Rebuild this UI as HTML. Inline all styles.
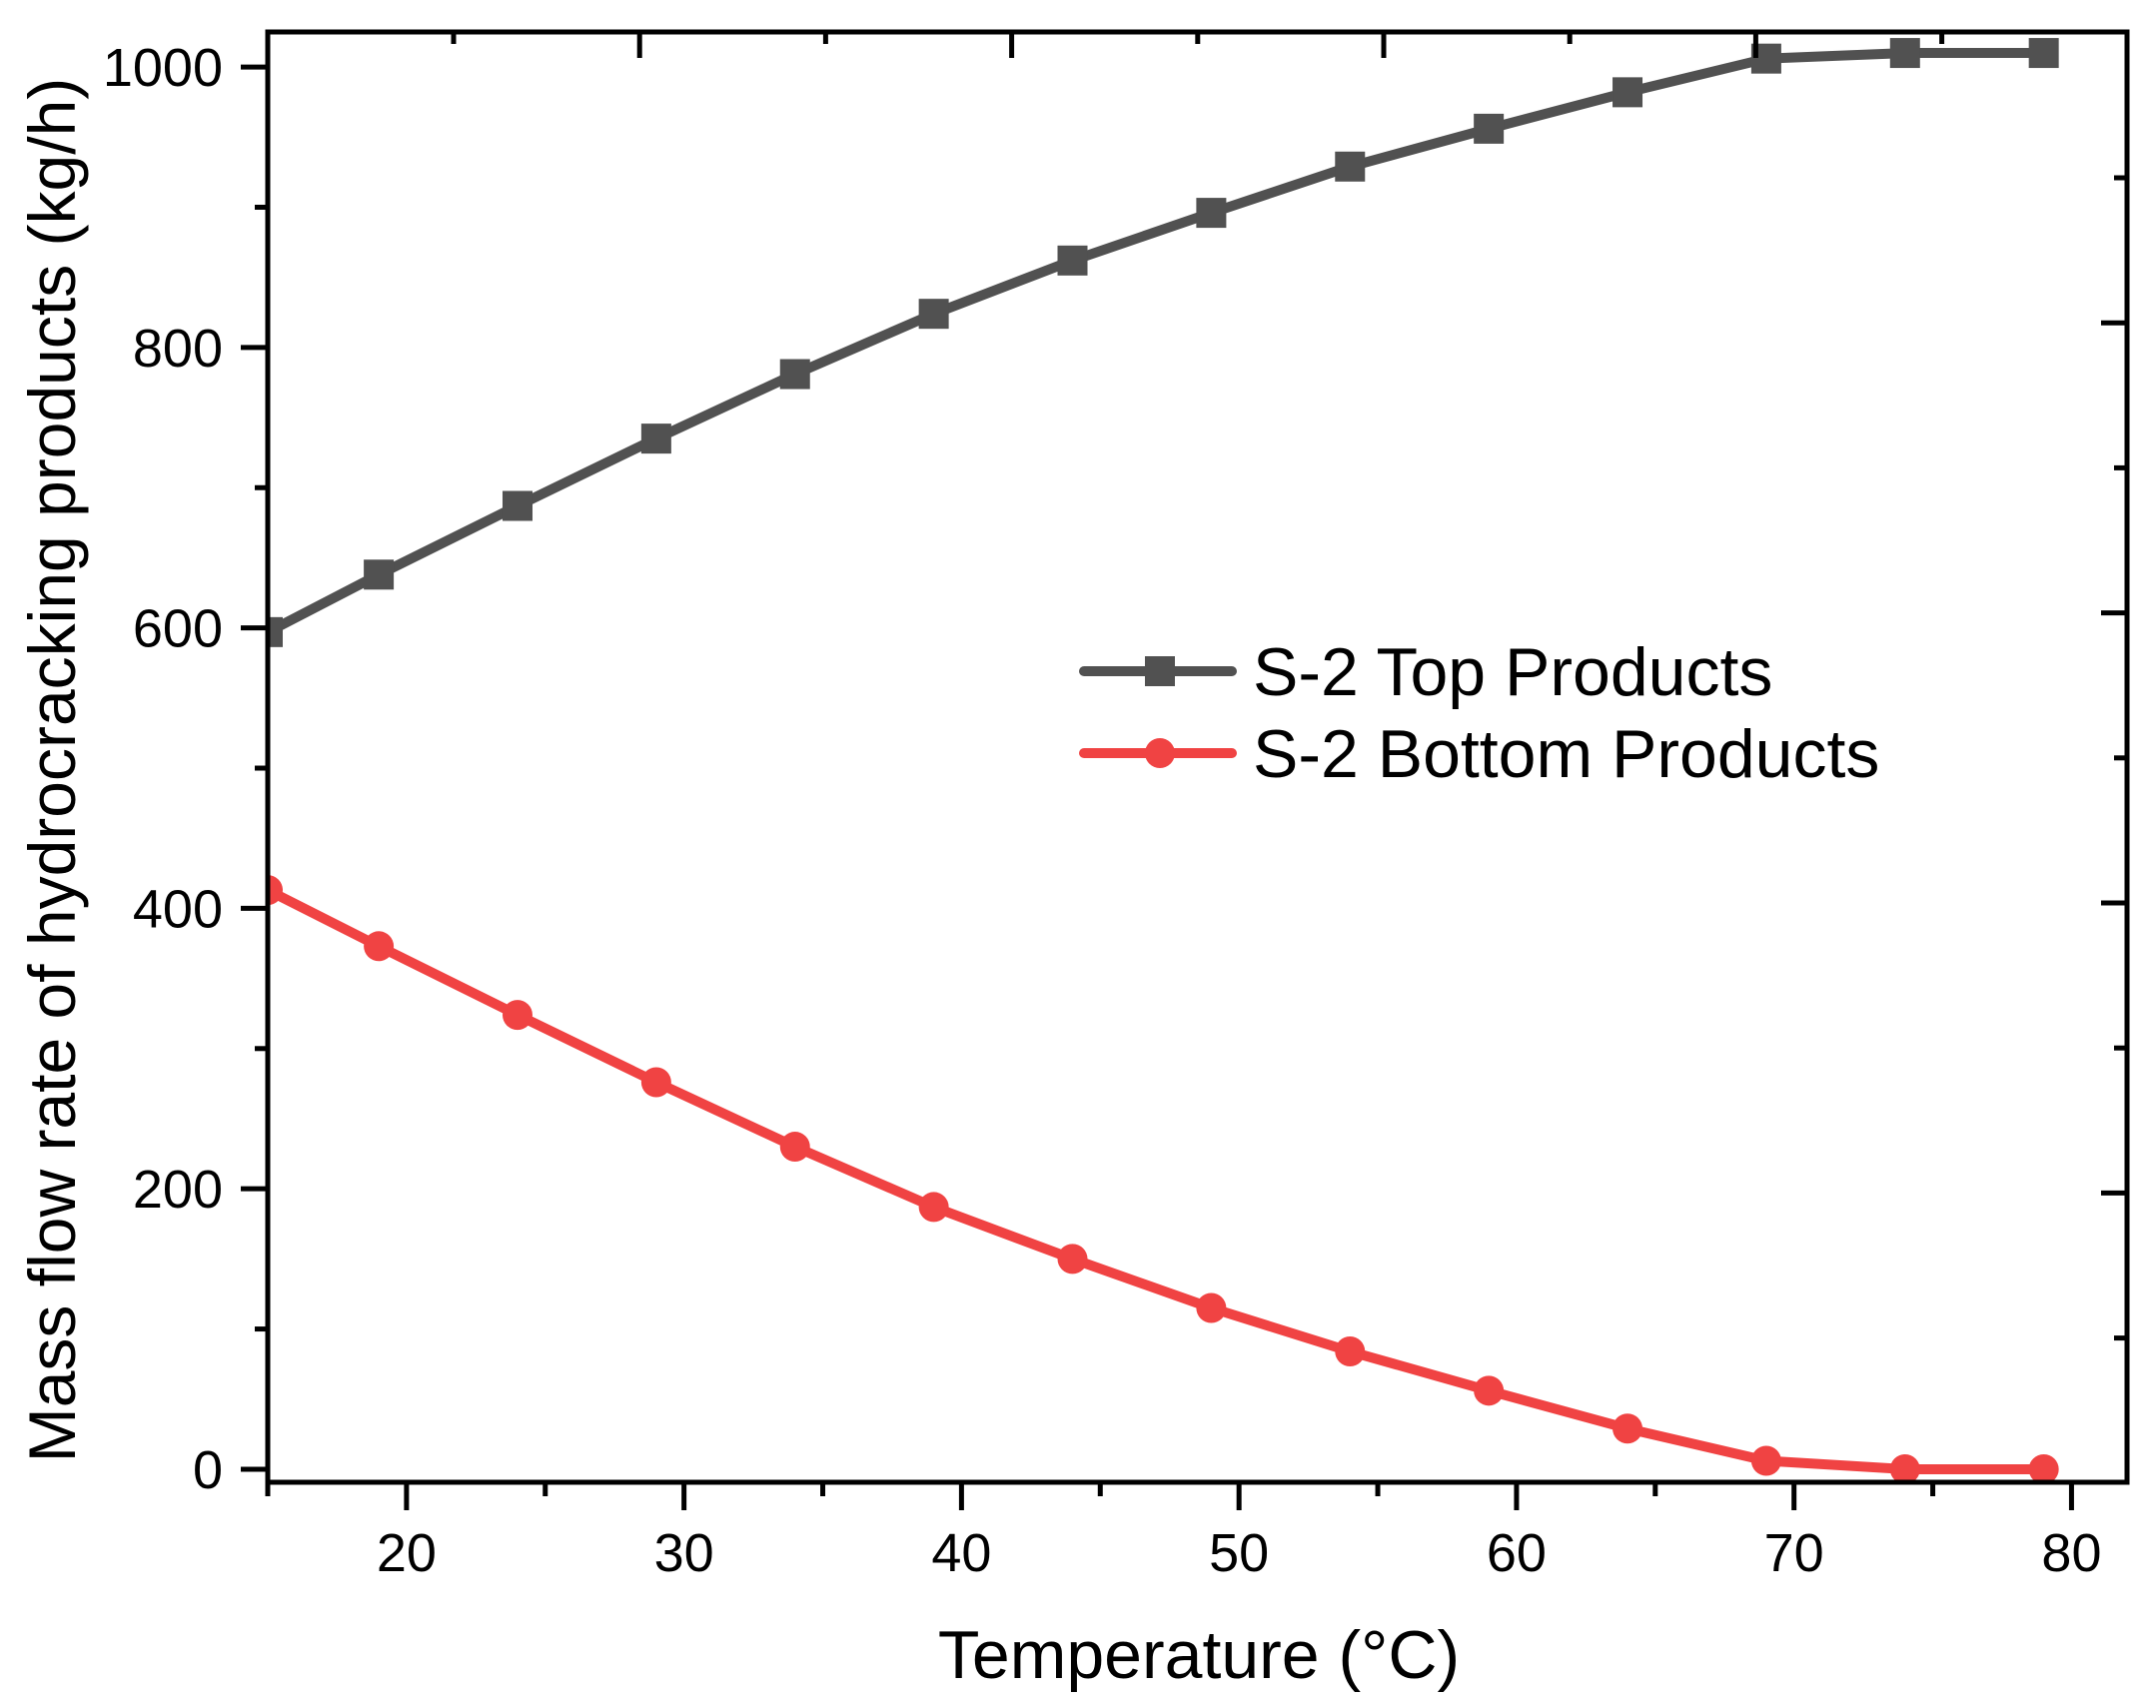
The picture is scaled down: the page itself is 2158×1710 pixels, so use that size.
<!DOCTYPE html>
<html><head><meta charset="utf-8"><style>
html,body{margin:0;padding:0;background:#fff;}
svg text{font-family:"Liberation Sans",Arial,sans-serif;fill:#000;}
</style></head><body>
<svg id="chart" width="2158" height="1705" viewBox="0 0 2158 1705" xmlns="http://www.w3.org/2000/svg">
<rect x="0" y="0" width="2158" height="1705" fill="#fff"/>
<g id="marks"></g>
<g id="axes"></g>
</svg>
<script>
const xValues = [15,19,24,29,34,39,44,49,54,59,64,69,74,79];
const topValues = [597,638,687,735,781,824,862,896,929,956,982,1006,1010,1010];
const bottomValues = [413,373,324,276,230,187,150,115,84,56,29,6,0,0];
const xTicks = [20,30,40,50,60,70,80];
const yTicks = [0,200,400,600,800,1000];
const seriesNames = ["S-2 Top Products","S-2 Bottom Products"];

const L=268, R=2129, T=32, B=1484;
const X0=15, X1=82.0, Y0=-9.3, Y1=1025;
function sx(v){return L+(v-X0)/(X1-X0)*(R-L);}
function sy(v){return B-(v-Y0)/(Y1-Y0)*(B-T);}
const NS="http://www.w3.org/2000/svg";
function mk(tag,attrs,parent){const e=document.createElementNS(NS,tag);for(const k in attrs)e.setAttribute(k,attrs[k]);parent.appendChild(e);return e;}
const marks=document.getElementById('marks'), axes=document.getElementById('axes');

const clip=mk('clipPath',{id:'pc'},marks);mk('rect',{x:L,y:T,width:R-L,height:B-T},clip);
const plotG=mk('g',{'clip-path':'url(#pc)'},marks);

function drawSeries(vals,color,shape,name){
  const g=mk('g',{},plotG);
  
  
  const pts=xValues.map((x,i)=>sx(x)+','+sy(vals[i])).join(' ');
  const pl=mk('polyline',{points:pts,fill:'none',stroke:color,'stroke-width':10,'stroke-linejoin':'round'},g);
  
  
  xValues.forEach((x,i)=>{
    let m;
    if(shape==='square') m=mk('rect',{x:sx(x)-15,y:sy(vals[i])-15,width:30,height:30,fill:color},g);
    else m=mk('circle',{cx:sx(x),cy:sy(vals[i]),r:15,fill:color},g);
    
    
  });
}
drawSeries(topValues,'#515151','square','top-products');
drawSeries(bottomValues,'#f04343','circle','bottom-products');

const fr=mk('rect',{x:L,y:T,width:R-L,height:B-T,fill:'none',stroke:'#000','stroke-width':5},axes);



for(let v=15; v<=80; v+=5){
  const major = v%10===0;
  const t=mk('line',{x1:sx(v),x2:sx(v),y1:B,y2:B+(major?28:14),stroke:'#000','stroke-width':5},axes);
  
  
}
xTicks.forEach(v=>{
  const t=mk('text',{x:sx(v),y:1573,'font-size':54,'text-anchor':'middle'},axes);
  t.textContent=v;
  
  
});
for(let v=0; v<=1000; v+=100){
  const major = v%200===0;
  const t=mk('line',{x1:L-(major?27:13),x2:L,y1:sy(v),y2:sy(v),stroke:'#000','stroke-width':5},axes);
  
  
}
yTicks.forEach(v=>{
  const t=mk('text',{x:223,y:sy(v)+19,'font-size':54,'text-anchor':'end'},axes);
  t.textContent=v;
  
  
});
for(let i=0;i<9;i++){
  const x=454+i*186.2, major=i%2===1;
  const t=mk('line',{x1:x,x2:x,y1:T,y2:T+(major?26:12),stroke:'#000','stroke-width':5},axes);
  
  
}
for(let i=0;i<9;i++){
  const y=178+i*145.2, major=i%2===1;
  const t=mk('line',{x1:R-(major?26:13),x2:R,y1:y,y2:y,stroke:'#000','stroke-width':5},axes);
  
  
}
const xt=mk('text',{x:1200,y:1680,'font-size':68,'text-anchor':'middle'},axes);
xt.textContent='Temperature (°C)';


const yt=mk('text',{x:0,y:0,'font-size':66,'text-anchor':'middle',transform:'translate(75,771) rotate(-90)'},axes);
yt.textContent='Mass flow rate of hydrocracking products (kg/h)';



const lg=mk('g',{},axes);


[[ '#515151','square',672],[ '#f04343','circle',754]].forEach((d,i)=>{
  const e=mk('g',{},lg);
  
  
  mk('line',{x1:1085,x2:1233,y1:d[2],y2:d[2],stroke:d[0],'stroke-width':10,'stroke-linecap':'round'},e);
  if(d[1]==='square') mk('rect',{x:1146,y:d[2]-15,width:30,height:30,fill:d[0]},e);
  else mk('circle',{cx:1161,cy:d[2],r:15,fill:d[0]},e);
  const t=mk('text',{x:1254,y:d[2]+24,'font-size':68},e);
  t.textContent=seriesNames[i];
});
</script>
</body></html>
